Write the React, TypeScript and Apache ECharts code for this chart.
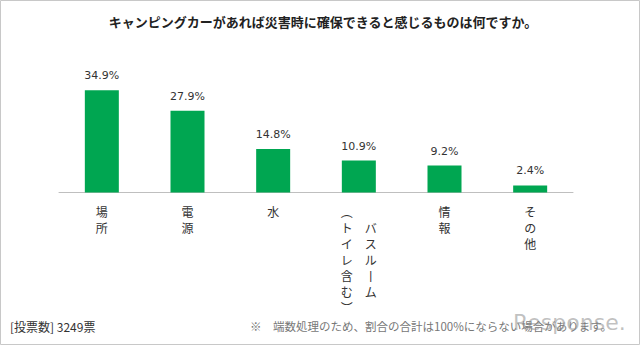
import React, { useEffect, useRef } from "react";
import * as echarts from "echarts";

const title = "キャンピングカーがあれば災害時に確保できると感じるものは何ですか。";
const categories = ["場所", "電源", "水", "バスルーム（トイレ含む）", "情報", "その他"];
const values = [34.9, 27.9, 14.8, 10.9, 9.2, 2.4];
const footLeft = "[投票数] 3249票";
const footNote = "※　端数処理のため、割合の合計は100%にならない場合があります。";
const watermark = "Response.";

const CJK = '"Noto Sans CJK JP", "Noto Sans", sans-serif';

function verticalLabel(cat: string): string {
  const vmap: Record<string, string> = { "ー": "丨", "（": "︵", "）": "︶" };
  const idx = cat.indexOf("（");
  if (idx < 0) {
    return Array.from(cat).map((c) => vmap[c] || c).join("\n");
  }
  const main = Array.from(cat.slice(0, idx)).map((c) => vmap[c] || c);
  const paren = Array.from(cat.slice(idx)).map((c) => vmap[c] || c);
  const right = ["", ...main];
  const left = paren;
  const n = Math.max(left.length, right.length);
  const lines: string[] = [];
  for (let i = 0; i < n; i++) {
    lines.push((left[i] || "　") + "　" + (right[i] || "　"));
  }
  return lines.join("\n");
}

export default function App() {
  const ref = useRef<HTMLDivElement>(null);
  useEffect(() => {
    document.body.style.margin = "0";
    const chart = echarts.init(ref.current!, null, { renderer: "svg" });
    chart.setOption({
      animation: false,
      backgroundColor: "#ffffff",
      title: {
        text: title,
        left: 318,
        top: 10,
        textAlign: "center",
        textStyle: { fontFamily: CJK, fontSize: 13, fontWeight: "bold", color: "#222" },
      },
      grid: { left: 59, right: 67, top: 60.5, bottom: 152.5 },
      xAxis: {
        type: "category",
        data: categories,
        axisLine: { show: true, lineStyle: { color: "#bfbfbf", width: 1 } },
        axisTick: { show: false },
        axisLabel: {
          interval: 0,
          margin: 11,
          fontFamily: CJK,
          fontSize: 12,
          lineHeight: 16,
          color: "#333",
          verticalAlign: "top",
          formatter: (v: string) => verticalLabel(v),
        },
      },
      yAxis: {
        type: "value",
        min: 0,
        max: 45,
        show: false,
        splitLine: { show: false },
      },
      series: [
        {
          type: "bar",
          data: values,
          barWidth: 34,
          itemStyle: { color: "#00a651" },
          label: {
            show: true,
            position: "top",
            distance: 9,
            fontFamily: '"DejaVu Sans", Verdana, sans-serif',
            fontSize: 11,
            color: "#333",
            formatter: (p: any) => p.value.toFixed(1) + "%",
          },
        },
      ],
      graphic: [
        {
          type: "rect",
          shape: { x: 0.5, y: 0.5, width: 639, height: 344 },
          style: { fill: "none", stroke: "#c8c8c8", lineWidth: 1 },
          silent: true,
        },
        {
          type: "text",
          x: 10,
          y: 326,
          style: {
            text: footLeft,
            fontFamily: CJK,
            fontSize: 12,
            fill: "#333",
            verticalAlign: "middle",
          },
        },
        {
          type: "text",
          x: 250,
          y: 326,
          style: {
            text: footNote,
            fontFamily: CJK,
            fontSize: 11.5,
            fill: "#777",
            verticalAlign: "middle",
          },
        },
        {
          type: "text",
          x: 513,
          y: 322,
          style: {
            text: watermark,
            fontFamily: '"DejaVu Sans", sans-serif',
            fontSize: 22,
            fill: "rgba(140,140,140,0.55)",
            verticalAlign: "middle",
          },
        },
      ],
    });
    return () => chart.dispose();
  }, []);
  return (
    <div
      ref={ref}
      style={{ position: "absolute", left: 0, top: 0, width: 640, height: 345 }}
    />
  );
}
